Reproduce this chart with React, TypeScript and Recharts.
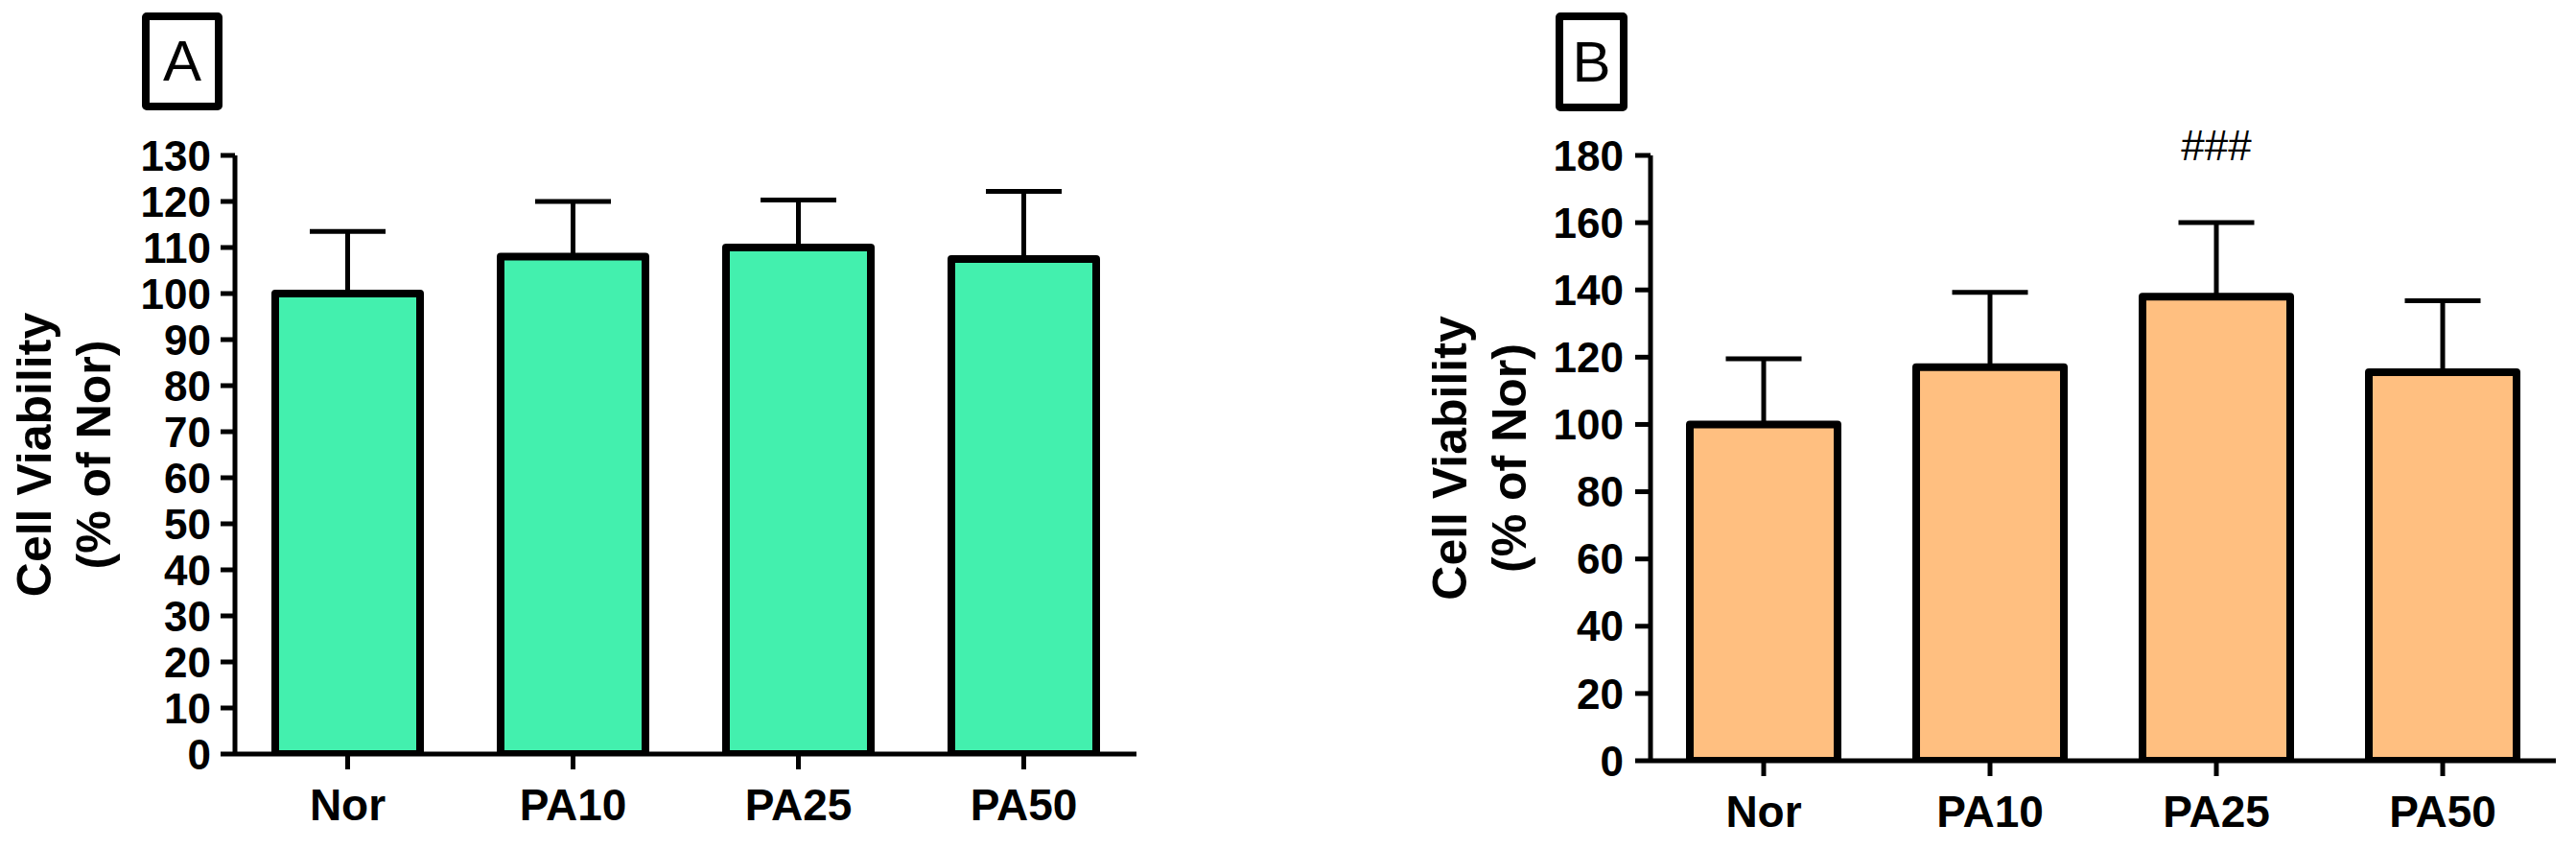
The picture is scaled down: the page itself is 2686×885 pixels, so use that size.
import React from "react";
import {
  BarChart,
  Bar,
  XAxis,
  YAxis,
  ErrorBar,
  Label,
  LabelList,
} from "recharts";

// ---- data ----
const categories = ["Nor", "PA10", "PA25", "PA50"];

const viabilityA = [100, 108, 110, 107.5];
const sdA = [13.5, 12, 10.3, 14.7];

const viabilityB = [100, 117, 138, 115.5];
const sdB = [19.5, 22.3, 22, 21.3];
const significanceB = ["", "", "###", ""];

const ticksA = [0, 10, 20, 30, 40, 50, 60, 70, 80, 90, 100, 110, 120, 130];
const ticksB = [0, 20, 40, 60, 80, 100, 120, 140, 160, 180];

const yTitleLine1 = "Cell Viability";
const yTitleLine2 = "(% of Nor)";

const dataA = categories.map((name, i) => ({
  name,
  mean: viabilityA[i],
  err: [0, sdA[i]],
}));
const dataB = categories.map((name, i) => ({
  name,
  mean: viabilityB[i],
  err: [0, sdB[i]],
  sig: significanceB[i],
}));

const FONT = "'Liberation Sans', Arial, Helvetica, sans-serif";

const YTitle = (props: any) => {
  const vb = props.viewBox || {};
  const base1 = vb.x + vb.width - 192;
  const base2 = base1 + 62;
  const cy = vb.y + vb.height / 2;
  return (
    <g>
      <text
        x={base1}
        y={cy}
        transform={`rotate(-90, ${base1}, ${cy})`}
        textAnchor="middle"
        fontSize={50}
        fontWeight="bold"
        fill="#000"
        fontFamily={FONT}
      >
        {yTitleLine1}
      </text>
      <text
        x={base2}
        y={cy}
        transform={`rotate(-90, ${base2}, ${cy})`}
        textAnchor="middle"
        fontSize={50}
        fontWeight="bold"
        fill="#000"
        fontFamily={FONT}
      >
        {yTitleLine2}
      </text>
    </g>
  );
};

const SigLabel = (p: any) => {
  if (!p.value) return null;
  const x = Number(p.x) + Number(p.width) / 2;
  const y = Number(p.y) - 158;
  return (
    <text
      x={x}
      y={y}
      textAnchor="middle"
      dominantBaseline="central"
      fontSize={44}
      fill="#000"
      fontFamily={FONT}
    >
      {p.value}
    </text>
  );
};

const PanelBox = ({ left, top, width, height, letter }: any) => (
  <div
    style={{
      position: "absolute",
      left,
      top,
      width,
      height,
      boxSizing: "border-box",
      border: "8px solid #000",
      borderRadius: 5,
      display: "flex",
      alignItems: "center",
      justifyContent: "center",
      fontSize: 60,
      lineHeight: 1,
      fontFamily: FONT,
      color: "#000",
      background: "#fff",
    }}
  >
    {letter}
  </div>
);

const axisLine = { stroke: "#000", strokeWidth: 5 };
const tickLine = { stroke: "#000", strokeWidth: 5 };
const yTick = { fill: "#000", fontSize: 44, fontWeight: "bold", fontFamily: FONT };
const xTick = { fill: "#000", fontSize: 46, fontWeight: "bold", fontFamily: FONT };

export default function App() {
  return (
    <div
      style={{
        position: "absolute",
        left: 0,
        top: 0,
        width: 2686,
        height: 885,
        background: "#fff",
        overflow: "hidden",
        fontFamily: FONT,
      }}
    >
      <PanelBox left={148} top={13} width={84} height={102} letter="A" />
      <PanelBox left={1622} top={13} width={75} height={103} letter="B" />

      <div style={{ position: "absolute", left: 0, top: 0 }}>
        <BarChart
          width={1200}
          height={885}
          data={dataA}
          margin={{ top: 162, right: 15, bottom: 0, left: 0 }}
        >
          <XAxis
            dataKey="name"
            height={99}
            axisLine={axisLine}
            tickLine={tickLine}
            tickSize={16}
            tickMargin={20}
            tick={xTick}
            interval={0}
          />
          <YAxis
            width={245}
            domain={[0, 130]}
            ticks={ticksA}
            interval={0}
            axisLine={axisLine}
            tickLine={tickLine}
            tickSize={15}
            tickMargin={10}
            tick={yTick}
            allowDataOverflow
          >
            <Label content={(p: any) => <YTitle {...p} />} />
          </YAxis>
          <Bar
            dataKey="mean"
            fill="#43F0AE"
            stroke="#000"
            strokeWidth={8}
            strokeLinejoin="round"
            barSize={151}
            isAnimationActive={false}
          >
            <ErrorBar
              dataKey="err"
              width={39.5}
              strokeWidth={5}
              stroke="#000"
              direction="y"
              isAnimationActive={false}
            />
          </Bar>
        </BarChart>
      </div>

      <div style={{ position: "absolute", left: 1476, top: 0 }}>
        <BarChart
          width={1204}
          height={885}
          data={dataB}
          margin={{ top: 162, right: 15, bottom: 0, left: 0 }}
        >
          <XAxis
            dataKey="name"
            height={92}
            axisLine={axisLine}
            tickLine={tickLine}
            tickSize={16}
            tickMargin={20}
            tick={xTick}
            interval={0}
          />
          <YAxis
            width={245}
            domain={[0, 180]}
            ticks={ticksB}
            interval={0}
            axisLine={axisLine}
            tickLine={tickLine}
            tickSize={16}
            tickMargin={12}
            tick={yTick}
            allowDataOverflow
          >
            <Label content={(p: any) => <YTitle {...p} />} />
          </YAxis>
          <Bar
            dataKey="mean"
            fill="#FFBF80"
            stroke="#000"
            strokeWidth={8}
            strokeLinejoin="round"
            barSize={154}
            isAnimationActive={false}
          >
            <ErrorBar
              dataKey="err"
              width={39.5}
              strokeWidth={5}
              stroke="#000"
              direction="y"
              isAnimationActive={false}
            />
            <LabelList dataKey="sig" content={SigLabel} />
          </Bar>
        </BarChart>
      </div>
    </div>
  );
}
